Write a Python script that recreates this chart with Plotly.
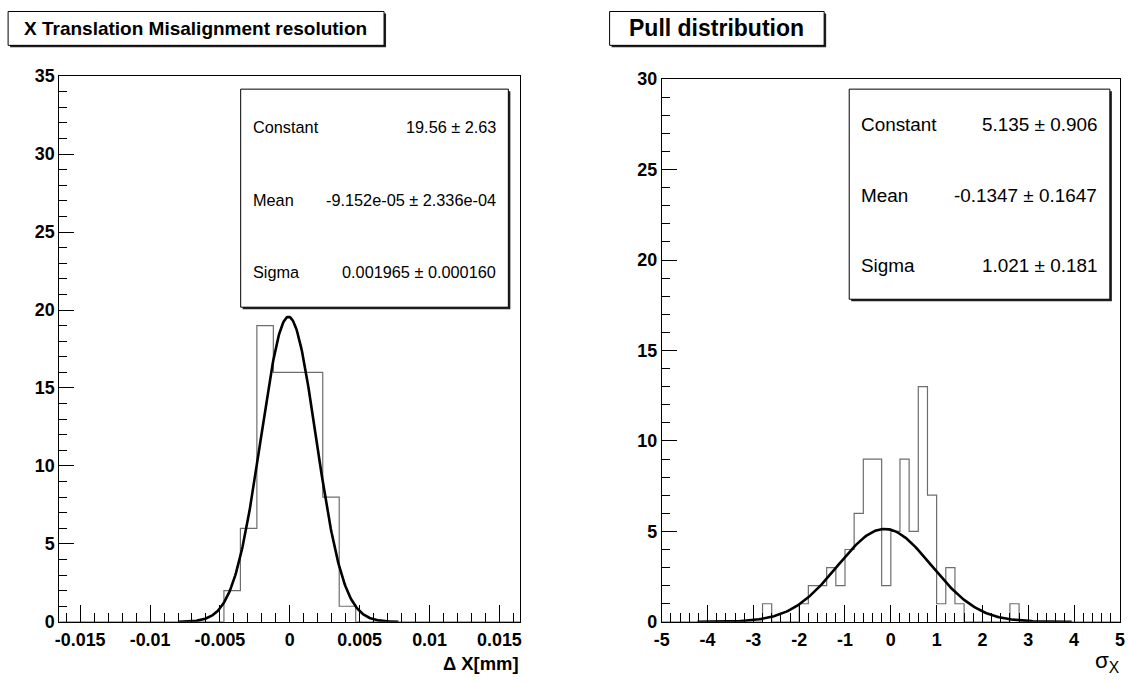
import numpy as np
import plotly.graph_objects as go

W, H = 1128, 684
# The photographed page shows the figure slightly offset and scaled
# (body margin); these factors map figure pixels to photographed pixels.
KX, AX = 0.986, 7.9
KY, AY = 0.975, 8.5
FS = 1.0 / 0.98   # font scale compensation

# ---------------- data ----------------
# Left: X translation misalignment residuals (28 bins over [-0.0165, 0.0165])
left_nbins = 28
left_xmin, left_xmax = -0.0165, 0.0165
left_counts = [0, 0, 0, 0, 0, 0, 0, 0, 0, 0,
               2, 6, 19, 16, 16, 16, 8, 1,
               0, 0, 0, 0, 0, 0, 0, 0, 0, 0]
left_fit_constant = 19.56
left_fit_mean = -9.152e-05
left_fit_sigma = 0.001965
left_xtick_vals = [-0.015, -0.01, -0.005, 0, 0.005, 0.01, 0.015]
left_xtick_text = ["-0.015", "-0.01", "-0.005", "0", "0.005", "0.01", "0.015"]
left_ytick_vals = [0, 5, 10, 15, 20, 25, 30, 35]
left_ymax = 35
left_stats_names = ["Constant", "Mean", "Sigma"]
left_stats_values = ["19.56 \u00b1 2.63", "-9.152e-05 \u00b1 2.336e-04", "0.001965 \u00b1 0.000160"]

# Right: pull distribution (50 bins over [-5, 5])
right_nbins = 50
right_xmin, right_xmax = -5.0, 5.0
right_counts = [0, 0, 0, 0, 0, 0, 0, 0, 0, 0,
                0, 1, 0, 0, 0, 1, 2, 2, 3, 2,
                4, 6, 9, 9, 2, 5, 9, 5, 13, 7,
                1, 3, 1, 0, 0, 0, 0, 0, 1, 0,
                0, 0, 0, 0, 0, 0, 0, 0, 0, 0]
right_fit_constant = 5.135
right_fit_mean = -0.1347
right_fit_sigma = 1.021
right_xtick_vals = [-5, -4, -3, -2, -1, 0, 1, 2, 3, 4, 5]
right_xtick_text = ["-5", "-4", "-3", "-2", "-1", "0", "1", "2", "3", "4", "5"]
right_ytick_vals = [0, 5, 10, 15, 20, 25, 30]
right_ymax = 30
right_stats_names = ["Constant", "Mean", "Sigma"]
right_stats_values = ["5.135 \u00b1 0.906", "-0.1347 \u00b1 0.1647", "1.021 \u00b1 0.181"]

titles = ["X Translation Misalignment resolution", "Pull distribution"]
xtitles = ["\u0394 X[mm]", "\u03c3<sub>X</sub>"]

# ---------------- helpers (target pixel -> paper fraction) ----------------
def px(t):
    return ((t - AX) / KX) / W

def py(t):
    return 1 - ((t - AY) / KY) / H

def fs(s):
    return round(s * FS, 1)

FONT = "Liberation Sans, Arial, Helvetica, sans-serif"

fig = go.Figure()

def add_hist(counts, xmin, xmax, nbins, xa, ya):
    edges = np.linspace(xmin, xmax, nbins + 1)
    ys = list(counts) + [counts[-1]]
    fig.add_trace(go.Scatter(x=edges, y=ys, mode="lines", line_shape="hv",
                             line=dict(color="#6e6e6e", width=1.2),
                             xaxis=xa, yaxis=ya, showlegend=False, hoverinfo="skip"))

def add_fit(c, m, s, xa, ya):
    xs = np.linspace(m - 4 * s, m + 4 * s, 300)
    ys = c * np.exp(-0.5 * ((xs - m) / s) ** 2)
    fig.add_trace(go.Scatter(x=xs, y=ys, mode="lines",
                             line=dict(color="black", width=2.6),
                             xaxis=xa, yaxis=ya, showlegend=False, hoverinfo="skip"))

add_hist(left_counts, left_xmin, left_xmax, left_nbins, "x", "y")
add_fit(left_fit_constant, left_fit_mean, left_fit_sigma, "x", "y")
add_hist(right_counts, right_xmin, right_xmax, right_nbins, "x2", "y2")
add_fit(right_fit_constant, right_fit_mean, right_fit_sigma, "x2", "y2")

tickfont = dict(family=FONT, size=fs(17.5), color="black")

def bold(labels):
    return ["<b>%s</b>" % t for t in labels]

def xaxis_cfg(dom, rng, vals, text, minor_dt, anchor):
    return dict(domain=dom, range=rng, showgrid=False, zeroline=False,
                showline=True, mirror=True, linecolor="black", linewidth=1,
                ticks="inside", ticklen=17, tickwidth=1, tickcolor="black",
                tickmode="array", tickvals=vals, ticktext=bold(text), tickfont=tickfont,
                ticklabelstandoff=2, ticklabeloverflow="allow",
                minor=dict(ticks="inside", ticklen=9, tickwidth=1, tickcolor="black",
                           tickmode="linear", tick0=0, dtick=minor_dt),
                anchor=anchor, fixedrange=True)

def yaxis_cfg(dom, ymax, vals, anchor):
    return dict(domain=dom, range=[0, ymax], showgrid=False, zeroline=False,
                showline=True, mirror=True, linecolor="black", linewidth=1,
                ticks="inside", ticklen=15, tickwidth=1, tickcolor="black",
                tickmode="array", tickvals=vals, ticktext=bold([str(v) for v in vals]),
                tickfont=tickfont, ticklabelstandoff=0, ticklabeloverflow="allow",
                minor=dict(ticks="inside", ticklen=8, tickwidth=1, tickcolor="black",
                           tickmode="linear", tick0=0, dtick=1),
                anchor=anchor, fixedrange=True)

L = dict(x0=59, x1=519, y0=75, y1=623)
R = dict(x0=660, x1=1117, y0=78, y1=623)

fig.update_layout(
    width=W, height=H, margin=dict(l=0, r=0, t=0, b=0),
    paper_bgcolor="white", plot_bgcolor="white",
    xaxis=xaxis_cfg([px(L["x0"]), px(L["x1"])], [left_xmin, left_xmax],
                    left_xtick_vals, left_xtick_text, 0.001, "y"),
    yaxis=yaxis_cfg([py(L["y1"]), py(L["y0"])], left_ymax, left_ytick_vals, "x"),
    xaxis2=xaxis_cfg([px(R["x0"]), px(R["x1"])], [right_xmin, right_xmax],
                     right_xtick_vals, right_xtick_text, 0.2, "y2"),
    yaxis2=yaxis_cfg([py(R["y1"]), py(R["y0"])], right_ymax, right_ytick_vals, "x2"),
    showlegend=False,
)

shapes = []
annotations = []

def pave(x0, y0, x1, y1, shadow=2):
    shapes.append(dict(type="rect", xref="paper", yref="paper",
                       x0=px(x0 + shadow), x1=px(x1 + shadow), y0=py(y1 + shadow), y1=py(y0 + shadow),
                       line=dict(width=0), fillcolor="#202020", layer="above"))
    shapes.append(dict(type="rect", xref="paper", yref="paper",
                       x0=px(x0), x1=px(x1), y0=py(y1), y1=py(y0),
                       line=dict(width=1, color="black"), fillcolor="white", layer="above"))

def text(x, y, s, size, anchor="left", bold=False, yanchor="middle"):
    annotations.append(dict(xref="paper", yref="paper", x=px(x), y=py(y), text=s,
                            showarrow=False, xanchor=anchor, yanchor=yanchor,
                            font=dict(family=FONT, size=fs(size), color="black",
                                      weight="bold" if bold else "normal")))

# title boxes
pave(8, 10, 383, 44)
text(195, 27, titles[0], 18.6, anchor="center", bold=True)
pave(608, 10, 822, 44)
text(715, 27, titles[1], 22.5, anchor="center", bold=True)

# stats boxes
pave(240, 88, 507, 307)
for name, val, yy in zip(left_stats_names, left_stats_values, [126, 199, 272]):
    text(250, yy, name, 16)
    text(497, yy, val, 16, anchor="right")
pave(847, 88, 1107, 299)
for name, val, yy in zip(right_stats_names, right_stats_values, [124, 195, 265]):
    text(857, yy, name, 18.5)
    text(1096, yy, val, 18.5, anchor="right")

# axis titles
text(520, 665, xtitles[0], 18, anchor="right", bold=True)
text(1119, 663, xtitles[1], 22, anchor="right")

fig.update_layout(shapes=shapes, annotations=annotations)
fig.write_html("out.html")
